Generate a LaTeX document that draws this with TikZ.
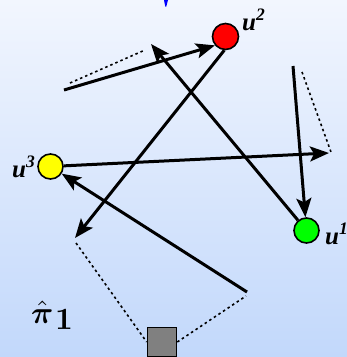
\documentclass[tikz,border=0pt]{standalone}
\usepackage{amsmath,bm}
\usepackage{fontspec}
\newfontfamily\ufont{Liberation Serif}
\usetikzlibrary{arrows.meta}
\begin{document}
\begin{tikzpicture}[x=1pt,y=-1pt,
  ball/.style={circle,draw=black,line width=1.6pt,minimum size=25pt,inner sep=0pt},
  arr/.style={line width=3pt,-{Stealth[length=19pt,width=15pt,inset=4pt]}},
  dots/.style={line width=1.6pt,dash pattern=on 2.5pt off 3pt},
  ulab/.style={anchor=base west,inner sep=0pt,font=\fontsize{25}{25}\selectfont\ufont\bfseries\itshape}]
\useasboundingbox (0,0) rectangle (347,357);
\shade[top color={rgb,255:red,242;green,246;blue,254},bottom color={rgb,255:red,194;green,216;blue,251}] (0,0) rectangle (347,357);
% small blue mark at top
\fill[blue] (164,0) -- (168,0) -- (166.3,6.5) -- (165.3,6.5) -- cycle;
% nodes
\node[ball,fill={rgb,255:red,255;green,0;blue,0},minimum size=26pt] (u2) at (225.5,36.5) {};
\node[ball,fill={rgb,255:red,255;green,255;blue,0}] (u3) at (50.5,166.5) {};
\node[ball,fill={rgb,255:red,0;green,255;blue,0}] (u1) at (306.5,230.5) {};
\node[draw=black,line width=1.6pt,fill={rgb,255:red,128;green,128;blue,128},minimum size=29pt,inner sep=0pt] (sq) at (162,342) {};
% labels
\node[ulab] (l2) at (242,30) {u\textsuperscript{2}};
\node[ulab] (l3) at (12,177) {u\textsuperscript{3}};
\node[ulab] (l1) at (325,244) {u\textsuperscript{1}};
\node[anchor=base west,inner sep=0pt] (pi) at (31,323) {\scalebox{3.1}{$\hat{\bm{\pi}}$}\hspace{1.5pt}\raisebox{-6pt}{\scalebox{3.1}{\bfseries 1}}};
% free coordinates
\coordinate (a1) at (64,90);
\coordinate (b2) at (151,44);
\coordinate (c2) at (75,238);
\coordinate (d2) at (329,153);
\coordinate (e1) at (293,66);
\coordinate (f1) at (247,292);
\coordinate (p1) at (70,83);
\coordinate (p2) at (145,50);
\coordinate (q1) at (302,72);
\coordinate (q2) at (331,152);
\coordinate (g1) at (76,243);
\coordinate (h1) at (246,296);
% dotted
\draw[dots] (p1) -- (p2);
\draw[dots] (q1) -- (q2);
\draw[dots] (g1) -- (sq.west);
\draw[dots] (sq.east) -- (h1);
% arrows
\draw[arr] (a1) -- (u2.220);
\draw[arr] (u1) -- (b2);
\draw[arr] (u2.265) -- (c2);
\draw[arr] (u3) -- (d2);
\draw[arr] (e1) -- (u1);
\draw[arr] (f1) -- (u3);
\end{tikzpicture}
\end{document}
